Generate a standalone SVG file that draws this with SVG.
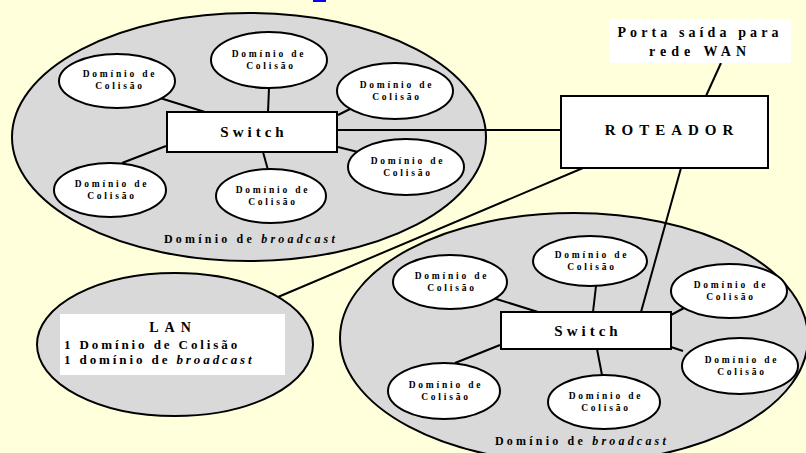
<svg xmlns="http://www.w3.org/2000/svg" width="806" height="453" viewBox="0 0 806 453">
<defs>
<style>
.bc{fill:#D9D9D9;stroke:#000;stroke-width:2}
.cd{fill:#fff;stroke:#000;stroke-width:2}
.box{fill:#fff;stroke:#000;stroke-width:2}
.ln{stroke:#000;stroke-width:2;fill:none}
text{font-family:"Liberation Serif","Times New Roman",serif;font-weight:bold;fill:#000}
.ct{font-size:9.5px;letter-spacing:2.8px;text-anchor:middle}
.sw{font-size:15px;letter-spacing:4px;text-anchor:middle}
.bl{font-size:12px;letter-spacing:3.2px;text-anchor:middle}
.lan{font-size:13px;letter-spacing:2.9px}
</style>
</defs>
<rect width="806" height="453" fill="#FFFFDB"/>
<rect x="313" y="0" width="13" height="2" fill="#0000FF"/>

<g id="broadcast1"><ellipse class="bc" cx="249" cy="137" rx="237" ry="124"/>
<text class="bl" x="251" y="243">Domínio de <tspan font-style="italic">broadcast</tspan></text></g>
<g id="broadcast2"><ellipse class="bc" cx="574" cy="338" rx="234" ry="125"/>
<text class="bl" x="582" y="445">Domínio de <tspan font-style="italic">broadcast</tspan></text></g>
<g id="lan"><ellipse class="bc" cx="175" cy="344.5" rx="138" ry="71.5"/>
<rect x="60" y="314" width="225" height="61" fill="#fff"/>
<text x="173" y="332" font-size="14" letter-spacing="6" text-anchor="middle">LAN</text>
<text class="lan" x="64" y="349">1 Domínio de Colisão</text>
<text class="lan" x="64" y="364">1 domínio de <tspan font-style="italic">broadcast</tspan></text></g>

<g id="connectors" class="ln">
<line x1="160" y1="98" x2="205" y2="112"/>
<line x1="269" y1="88" x2="268" y2="112"/>
<line x1="350" y1="109" x2="338" y2="115"/>
<line x1="337" y1="130" x2="561" y2="130"/>
<line x1="338" y1="147" x2="358" y2="152"/>
<line x1="263" y1="152" x2="268" y2="170"/>
<line x1="166" y1="146" x2="122" y2="163"/>
<line x1="706" y1="96" x2="721" y2="63"/>
<line x1="583" y1="168" x2="278" y2="297"/>
<line x1="681" y1="168" x2="641" y2="312"/>
<line x1="493" y1="298" x2="538" y2="312"/>
<line x1="596" y1="286" x2="593" y2="312"/>
<line x1="684" y1="308" x2="671" y2="315"/>
<line x1="671" y1="347" x2="683" y2="351"/>
<line x1="597" y1="349" x2="602" y2="375"/>
<line x1="500" y1="345" x2="455" y2="363"/>
</g>

<g id="cd1"><ellipse class="cd" cx="117" cy="81" rx="58" ry="27"/><text class="ct" x="120" y="77">Domínio de<tspan x="120" y="89">Colisão</tspan></text></g>
<g id="cd2"><ellipse class="cd" cx="269" cy="60" rx="58" ry="28"/><text class="ct" x="269" y="57">Domínio de<tspan x="271" y="69">Colisão</tspan></text></g>
<g id="cd3"><ellipse class="cd" cx="395" cy="91" rx="58" ry="28"/><text class="ct" x="397" y="88">Domínio de<tspan x="397" y="100">Colisão</tspan></text></g>
<g id="cd4"><ellipse class="cd" cx="406" cy="167" rx="58" ry="28"/><text class="ct" x="408" y="164">Domínio de<tspan x="408" y="176">Colisão</tspan></text></g>
<g id="cd5"><ellipse class="cd" cx="271" cy="196" rx="55" ry="27"/><text class="ct" x="273" y="193">Domínio de<tspan x="273" y="205">Colisão</tspan></text></g>
<g id="cd6"><ellipse class="cd" cx="110" cy="190" rx="56" ry="27"/><text class="ct" x="112" y="187">Domínio de<tspan x="112" y="199">Colisão</tspan></text></g>

<g id="switch1"><rect class="box" x="167" y="112" width="170" height="40"/><text class="sw" x="254" y="137">Switch</text></g>
<g id="router"><rect class="box" x="561" y="96" width="207" height="72"/><text x="672" y="135" font-size="15" letter-spacing="6" text-anchor="middle">ROTEADOR</text></g>
<g id="wan"><rect x="609" y="19" width="182" height="44" fill="#fff"/>
<text x="700" y="37" font-size="14" letter-spacing="4.1" text-anchor="middle">Porta saída para</text>
<text x="700" y="56" font-size="14" letter-spacing="5" text-anchor="middle">rede WAN</text></g>

<g id="cda"><ellipse class="cd" cx="450" cy="282" rx="57" ry="27"/><text class="ct" x="452" y="279">Domínio de<tspan x="452" y="291">Colisão</tspan></text></g>
<g id="cdb"><ellipse class="cd" cx="590" cy="261" rx="57" ry="25"/><text class="ct" x="592" y="258">Domínio de<tspan x="592" y="270">Colisão</tspan></text></g>
<g id="cdc"><ellipse class="cd" cx="729" cy="291" rx="58" ry="27"/><text class="ct" x="731" y="288">Domínio de<tspan x="731" y="300">Colisão</tspan></text></g>
<g id="cdd"><ellipse class="cd" cx="740" cy="366" rx="58" ry="28"/><text class="ct" x="742" y="363">Domínio de<tspan x="742" y="375">Colisão</tspan></text></g>
<g id="cde"><ellipse class="cd" cx="604" cy="402" rx="56" ry="27"/><text class="ct" x="606" y="399">Domínio de<tspan x="606" y="411">Colisão</tspan></text></g>
<g id="cdf"><ellipse class="cd" cx="444" cy="391" rx="56" ry="28"/><text class="ct" x="446" y="388">Domínio de<tspan x="446" y="400">Colisão</tspan></text></g>

<g id="switch2"><rect class="box" x="501" y="312" width="170" height="37"/><text class="sw" x="588" y="336">Switch</text></g>
</svg>
